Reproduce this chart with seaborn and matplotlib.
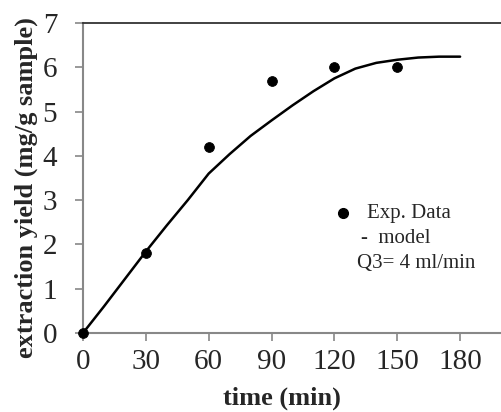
import matplotlib
matplotlib.use("Agg")
import matplotlib.pyplot as plt
import seaborn as sns
import pandas as pd

exp_time = [0, 30, 60, 90, 120, 150]
exp_yield = [0.0, 1.8, 4.2, 5.7, 6.0, 6.0]

model_time = [0, 10, 20, 30, 40, 50, 60, 70, 80, 90, 100, 110, 120, 130, 140, 150, 160, 170, 180]
model_yield = [0.0, 0.6, 1.22, 1.84, 2.43, 3.0, 3.6, 4.04, 4.45, 4.8, 5.14, 5.46, 5.75, 5.97, 6.1, 6.17, 6.22, 6.24, 6.24]

x_ticks = [0, 30, 60, 90, 120, 150, 180]
y_ticks = [0, 1, 2, 3, 4, 5, 6, 7]

sns.set_style("white")
plt.rcParams['font.family'] = ['Liberation Serif', 'DejaVu Serif']

fig = plt.figure(figsize=(5.02, 4.12), dpi=100)
ax = fig.add_axes([83/502, 1 - 333/412, 1 - 83/502, (333 - 23)/412])

exp_df = pd.DataFrame({"time": exp_time, "yield": exp_yield})
model_df = pd.DataFrame({"time": model_time, "yield": model_yield})

sns.lineplot(data=model_df, x="time", y="yield", color="black", linewidth=1.8, ax=ax)
sns.scatterplot(data=exp_df, x="time", y="yield", color="black", s=50, edgecolor="black", ax=ax, zorder=5, clip_on=False)

ax.set_xlim(0, 200)
ax.set_ylim(0, 7)
ax.set_xticks(x_ticks)
ax.set_yticks(y_ticks)
ax.tick_params(axis='both', labelsize=21, direction='out', length=5.5, width=1.2, color='#888888', bottom=True, left=True)
ax.tick_params(axis='x', pad=6)
ax.tick_params(axis='y', pad=13)
for s in ['left', 'bottom']:
    ax.spines[s].set_color('#888888')
    ax.spines[s].set_linewidth(1.5)
ax.spines['top'].set_color('#333333')
ax.spines['top'].set_linewidth(1.3)
ax.spines['right'].set_visible(False)

ax.set_xlabel("time (min)", fontsize=19, fontweight='bold')
ax.set_ylabel("extraction yield (mg/g sample)", fontsize=19, fontweight='bold')
ax.xaxis.set_label_coords(0.474, -0.212)
ax.xaxis.label.set_va('center')
ax.yaxis.set_label_coords(-0.136, 0.468)
ax.yaxis.label.set_va('center')

ax.plot([124], [2.7], 'o', color='black', markersize=7)
ax.text(135.5, 2.7, "Exp. Data", fontsize=15, va='center')
ax.text(132.5, 2.14, "-  model", fontsize=15, va='center')
ax.text(131, 1.58, "Q3= 4 ml/min", fontsize=15, va='center')

fig.savefig("out.png", dpi=100)
